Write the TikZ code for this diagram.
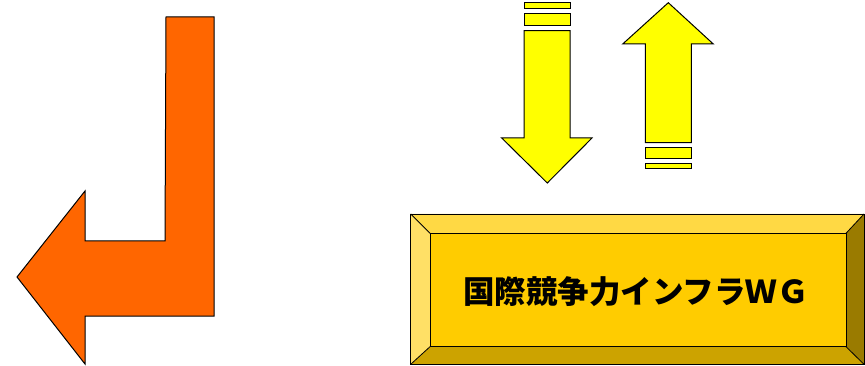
\documentclass[tikz,border=0pt]{standalone}
\usepackage{fontspec}
\newfontfamily\cjk{Noto Sans CJK JP}
\definecolor{orangeA}{HTML}{FF6600}
\definecolor{yellowA}{HTML}{FFFF00}
\definecolor{goldFace}{HTML}{FFCC00}
\definecolor{goldTop}{HTML}{FFD944}
\definecolor{goldLeft}{HTML}{FFE066}
\definecolor{goldBottom}{HTML}{CCA300}
\definecolor{goldRight}{HTML}{9A7B00}
\tikzset{
  shapeline/.style={draw=black, line width=1pt, line join=miter},
  bevel/.style={draw=black, line width=0.8pt, line join=miter},
}
\begin{document}
\begin{tikzpicture}[x=1pt,y=-1pt]
\useasboundingbox (0,0) rectangle (865,366);
% orange bent arrow
\draw[shapeline, fill=orangeA] (166,17) -- (214,17) -- (214,316) -- (85,316) -- (85,364) -- (17,277) -- (85,191) -- (85,241) -- (165,241) -- cycle;
% down arrow
\draw[shapeline, fill=yellowA] (524,2.5) rectangle (570,8.5);
\draw[shapeline, fill=yellowA] (524,14) rectangle (570,25.7);
\draw[shapeline, fill=yellowA] (524,30.7) -- (570,30.7) -- (570,138) -- (592,138) -- (547.3,183) -- (501.7,138) -- (524,138) -- cycle;
% up arrow
\draw[shapeline, fill=yellowA] (668.3,2.7) -- (713.3,44) -- (691.3,44) -- (691.3,142.7) -- (645.3,142.7) -- (645.3,44) -- (622.7,44) -- cycle;
\draw[shapeline, fill=yellowA] (645.3,147.7) rectangle (691.3,158.7);
\draw[shapeline, fill=yellowA] (645.3,163.3) rectangle (691.3,169);
% bevel box
\fill[goldTop] (410.7,214) -- (864,214) -- (846,233.3) -- (430,233.3) -- cycle;
\fill[goldLeft] (410.7,214) -- (430,233.3) -- (430,346.7) -- (410.7,364.3) -- cycle;
\fill[goldBottom] (410.7,364.3) -- (430,346.7) -- (846,346.7) -- (864,364.3) -- cycle;
\fill[goldRight] (864,214) -- (846,233.3) -- (846,346.7) -- (864,364.3) -- cycle;
\draw[bevel] (410.7,214) -- (430,233.3) (864,214) -- (846,233.3) (410.7,364.3) -- (430,346.7) (864,364.3) -- (846,346.7);
\draw[bevel] (410.7,214) rectangle (864,364.3);
\draw[bevel, fill=goldFace] (430,233.3) rectangle (846,346.7);
\node[inner sep=0pt, font=\cjk\bfseries\fontsize{31.5}{31.5}\selectfont] (wg) at (636,292) {国際競争力インフラＷＧ};
\end{tikzpicture}
\end{document}
